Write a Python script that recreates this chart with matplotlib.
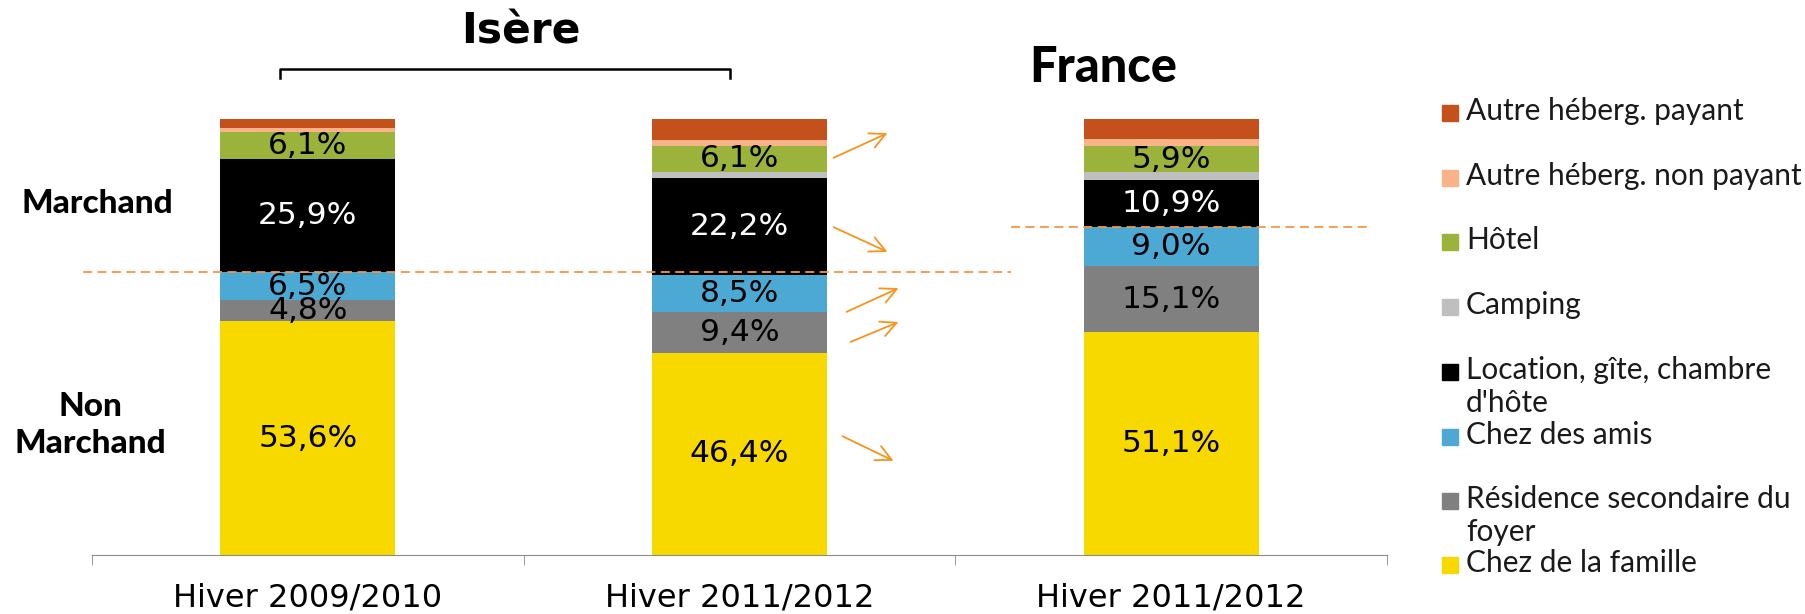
import numpy as np
import matplotlib.pyplot as plt
from matplotlib.patches import Rectangle

# categories and values (%), bottom to top
groups = ['Hiver 2009/2010', 'Hiver 2011/2012', 'Hiver 2011/2012']
series = ['Chez de la famille', 'Résidence secondaire du\nfoyer', 'Chez des amis',
          "Location, gîte, chambre\nd'hôte", 'Camping', 'Hôtel',
          'Autre héberg. non payant', 'Autre héberg. payant']
famille = [53.6, 46.4, 51.1]
residence = [4.8, 9.4, 15.1]
amis = [6.5, 8.5, 9.0]
location = [25.9, 22.2, 10.9]
camping = [0.1, 1.3, 1.7]
hotel = [6.1, 6.1, 5.9]
non_payant = [1.0, 1.2, 1.8]
payant = [2.0, 4.9, 4.5]
values = [famille, residence, amis, location, camping, hotel, non_payant, payant]
colors = ['#F7D900', '#808080', '#4BA9D3', '#000000', '#BFBFBF', '#9BB33A',
          '#FAB389', '#C4501B']
labelled = [0, 1, 2, 3, 5]  # segments that get a value label

fig = plt.figure(figsize=(18.05, 6.14), dpi=100)
W, H = 1805, 614
ax = fig.add_axes([92 / W, 59 / H, (1387 - 92) / W, (555 - 119) / H])

x = np.arange(len(groups))
bottom = np.zeros(len(groups))
for i, (vals, col) in enumerate(zip(values, colors)):
    vals = np.array(vals)
    ax.bar(x, vals, 0.405, bottom=bottom, color=col, edgecolor='none')
    if i in labelled:
        tc = 'white' if col == '#000000' else 'black'
        for xi, b, v in zip(x, bottom, vals):
            ax.text(xi, b + v / 2, ('%.1f%%' % v).replace('.', ','), ha='center',
                    va='center', fontsize=22.5, color=tc, family='DejaVu Sans')
    bottom += vals

ax.set_xlim(-0.5, 2.5)
ax.set_ylim(0, 100)
for s in ['top', 'right', 'left']:
    ax.spines[s].set_visible(False)
ax.spines['bottom'].set_color('#8c8c8c')
ax.set_yticks([])
ax.set_xticks(x)
ax.set_xticklabels(groups, fontsize=23, family='DejaVu Sans')
ax.tick_params(axis='x', which='major', length=0, pad=20)
ax.set_xticks([-0.5, 0.5, 1.5, 2.5], minor=True)
ax.tick_params(axis='x', which='minor', length=7, color='#8c8c8c', direction='out')

# dashed separators marchand / non marchand
ax.plot([-0.52, 1.63], [64.9, 64.9], ls='--', color='#F79646', lw=1.3,
        dashes=(5, 3), clip_on=False)
ax.plot([1.63, 2.46], [75.2, 75.2], ls='--', color='#F79646', lw=1.3,
        dashes=(5, 3), clip_on=False)

# arrows Isère 2011/2012 -> France
arrows = [((831, 159), (890, 132)), ((831, 226), (890, 253)),
          ((844, 313), (901, 287)), ((848, 343), (901, 321)),
          ((840, 435), (896, 462))]
for (x0, y0), (x1, y1) in arrows:
    ax.annotate('', xy=(x1, H - y1), xytext=(x0, H - y0), xycoords='figure pixels',
                textcoords='figure pixels',
                arrowprops=dict(arrowstyle='->', color='#F7941D', lw=1.3,
                                mutation_scale=28))

# titles
fig.text(521 / W, 1 - 31 / H, 'Isère', ha='center', va='center', fontsize=30.5,
         fontweight='bold', family='DejaVu Sans')
fig.text(1103 / W, 1 - 67 / H, 'France', ha='center', va='center', fontsize=35,
         fontweight='black', family='Lato')
fig.add_artist(plt.Line2D([280 / W, 280 / W, 730 / W, 730 / W],
                          [1 - 78 / H, 1 - 69 / H, 1 - 69 / H, 1 - 78 / H],
                          color='black', lw=1.8))
fig.text(97 / W, 1 - 204 / H, 'Marchand', ha='center', va='center', fontsize=24,
         fontweight='black', family='Lato')
fig.text(90 / W, 1 - 425 / H, 'Non\nMarchand', ha='center', va='center', fontsize=24,
         fontweight='black', family='Lato', linespacing=1.3)

# legend
leg_y = [565, 501, 437, 372, 307, 242, 178, 113]
for lab, col, yy in zip(series, colors, leg_y):
    fig.add_artist(Rectangle((1442 / W, 1 - (yy + 8) / H), 16 / W, 16 / H,
                             color=col, transform=fig.transFigure))
    fig.text(1466 / W, 1 - (yy - 16) / H, lab, ha='left', va='top', fontsize=21.5,
             family='Lato', color='#1a1a1a', linespacing=1.2)

fig.savefig('out.png', dpi=100)
